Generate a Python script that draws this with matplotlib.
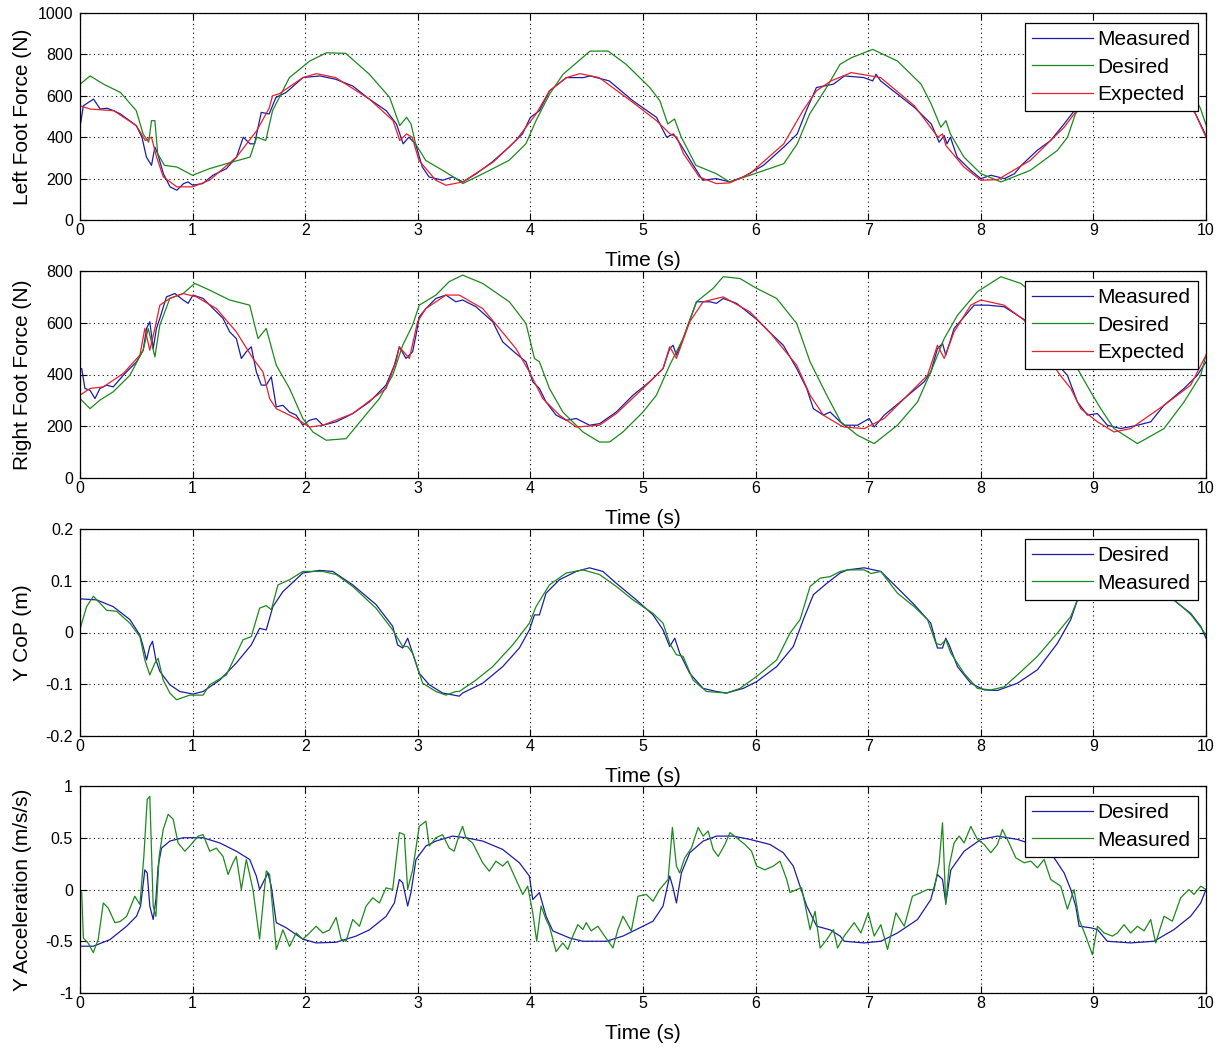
import numpy as np
import matplotlib
matplotlib.use("Agg")
import matplotlib.pyplot as plt

plt.rcParams["font.family"] = ["Liberation Sans", "DejaVu Sans"]

# ---------------------------------------------------------------- data
# Each series is a list of (time [s], value) samples.

# Left foot force (N)
lf_measured = [
    (0, 448), (0.03, 552), (0.12, 584), (0.18, 536), (0.24, 540), (0.30, 528), (0.36, 512),
    (0.50, 456), (0.55, 400), (0.59, 304), (0.635, 264), (0.665, 352), (0.69, 320), (0.74, 224),
    (0.80, 160), (0.86, 144), (0.92, 176), (0.96, 184), (1.0, 168), (1.09, 176), (1.18, 216),
    (1.30, 248), (1.39, 304), (1.45, 400), (1.51, 368), (1.55, 368), (1.61, 520), (1.68, 512),
    (1.74, 592), (1.83, 616), (1.98, 688), (2.13, 696), (2.27, 680), (2.42, 648), (2.57, 584),
    (2.72, 528), (2.81, 464), (2.87, 368), (2.92, 400), (2.98, 368), (3.04, 256), (3.10, 208),
    (3.22, 192), (3.31, 208), (3.40, 184), (3.52, 224), (3.66, 280), (3.81, 352), (3.93, 416),
    (4.0, 496), (4.08, 528), (4.17, 624), (4.32, 688), (4.47, 688), (4.53, 696), (4.70, 672),
    (4.91, 576), (5.12, 496), (5.21, 400), (5.27, 416), (5.33, 368), (5.42, 288), (5.53, 192),
    (5.65, 200), (5.77, 184), (5.89, 208), (6.07, 264), (6.25, 352), (6.37, 416), (6.45, 528),
    (6.54, 640), (6.69, 656), (6.79, 696), (6.96, 688), (7.04, 672), (7.07, 704), (7.11, 672),
    (7.26, 608), (7.41, 544), (7.56, 464), (7.63, 376), (7.675, 408), (7.70, 368), (7.73, 400),
    (7.79, 304), (7.91, 240), (8.0, 200), (8.09, 216), (8.21, 200), (8.30, 224), (8.36, 264),
    (8.50, 336), (8.62, 384), (8.74, 464), (8.83, 528), (9.0, 610), (9.2, 680), (9.4, 700),
    (9.6, 660), (9.8, 570), (9.9, 520), (10.0, 408),
]
lf_desired = [
    (0, 656), (0.09, 696), (0.21, 656), (0.36, 616), (0.50, 528), (0.56, 416), (0.61, 376),
    (0.635, 480), (0.665, 480), (0.69, 320), (0.75, 264), (0.86, 256), (1.0, 216), (1.15, 248),
    (1.30, 272), (1.51, 304), (1.57, 400), (1.65, 384), (1.71, 528), (1.86, 688), (2.04, 768),
    (2.19, 808), (2.36, 805), (2.57, 704), (2.75, 592), (2.84, 456), (2.90, 496), (2.94, 464),
    (2.98, 368), (3.07, 288), (3.22, 240), (3.34, 200), (3.40, 176), (3.58, 224), (3.81, 288),
    (3.96, 368), (4.05, 480), (4.17, 608), (4.29, 704), (4.53, 816), (4.69, 816), (4.85, 752),
    (5.06, 640), (5.15, 576), (5.22, 464), (5.28, 488), (5.34, 400), (5.47, 264), (5.65, 224),
    (5.77, 184), (5.95, 216), (6.25, 272), (6.37, 368), (6.48, 512), (6.63, 640), (6.75, 752),
    (6.85, 784), (7.04, 824), (7.26, 768), (7.47, 656), (7.56, 560), (7.645, 448), (7.69, 480),
    (7.73, 416), (7.85, 304), (8.0, 224), (8.18, 184), (8.44, 240), (8.68, 336), (8.77, 400),
    (8.84, 512), (9.0, 640), (9.2, 760), (9.45, 815), (9.7, 760), (9.85, 640), (9.95, 540),
    (10.0, 460),
]
lf_expected = [
    (0, 552), (0.09, 536), (0.30, 528), (0.50, 456), (0.58, 384), (0.635, 400), (0.68, 304),
    (0.74, 208), (0.86, 160), (1.0, 160), (1.15, 192), (1.39, 304), (1.57, 432), (1.68, 540),
    (1.71, 600), (1.77, 610), (1.98, 688), (2.10, 707), (2.27, 688), (2.57, 584), (2.78, 480),
    (2.84, 384), (2.90, 416), (2.95, 400), (3.01, 288), (3.16, 192), (3.25, 168), (3.40, 184),
    (3.67, 280), (3.87, 384), (4.05, 512), (4.17, 624), (4.32, 688), (4.44, 707), (4.61, 688),
    (4.91, 568), (5.12, 480), (5.24, 416), (5.30, 400), (5.36, 320), (5.50, 208), (5.65, 176),
    (5.77, 179), (5.95, 224), (6.25, 368), (6.42, 528), (6.54, 624), (6.67, 672), (6.85, 712),
    (7.11, 688), (7.41, 552), (7.62, 400), (7.66, 416), (7.69, 360), (7.85, 256), (8.0, 192),
    (8.15, 195), (8.44, 288), (8.74, 448), (8.84, 520), (9.0, 610), (9.2, 680), (9.4, 705),
    (9.6, 670), (9.8, 580), (9.9, 520), (10.0, 400),
]

# Right foot force (N)
rf_measured = [
    (0, 420), (0.015, 423), (0.044, 346), (0.089, 339), (0.133, 307), (0.177, 346), (0.236, 359),
    (0.295, 352), (0.384, 397), (0.502, 449), (0.561, 494), (0.591, 578), (0.62, 604), (0.65, 500),
    (0.679, 578), (0.709, 617), (0.768, 700), (0.842, 713), (0.916, 688), (0.96, 675), (1.004, 707),
    (1.093, 694), (1.182, 655), (1.27, 617), (1.329, 565), (1.388, 539), (1.433, 462), (1.477, 488),
    (1.521, 507), (1.566, 410), (1.61, 359), (1.654, 359), (1.699, 391), (1.743, 275), (1.802, 281),
    (1.861, 255), (1.92, 243), (1.979, 204), (2.038, 223), (2.097, 230), (2.157, 204), (2.275, 217),
    (2.422, 249), (2.57, 294), (2.718, 359), (2.792, 436), (2.836, 507), (2.895, 462), (2.954, 488),
    (2.984, 552), (3.013, 623), (3.072, 655), (3.161, 694), (3.25, 707), (3.338, 681), (3.398, 688),
    (3.516, 662), (3.665, 604), (3.754, 526), (3.872, 481), (3.961, 449), (4.021, 372), (4.08, 346),
    (4.139, 294), (4.228, 243), (4.318, 223), (4.407, 230), (4.466, 217), (4.525, 204), (4.614, 210),
    (4.763, 255), (4.911, 320), (5.059, 372), (5.178, 423), (5.237, 500), (5.267, 513), (5.297, 475),
    (5.356, 539), (5.475, 681), (5.593, 681), (5.653, 675), (5.712, 694), (5.831, 675), (6.009, 613),
    (6.128, 562), (6.246, 513), (6.365, 423), (6.454, 346), (6.513, 268), (6.602, 243), (6.662, 255),
    (6.751, 217), (6.787, 204), (6.905, 204), (7.009, 230), (7.053, 197), (7.142, 243), (7.32, 307),
    (7.497, 372), (7.556, 410), (7.615, 500), (7.66, 520), (7.689, 475), (7.763, 578), (7.852, 623),
    (7.941, 668), (8.059, 668), (8.207, 662), (8.325, 629), (8.414, 604), (8.55, 520), (8.7, 430),
    (8.769, 397), (8.858, 294), (8.947, 243), (9.036, 249), (9.124, 204), (9.243, 191), (9.391, 204),
    (9.509, 217), (9.627, 281), (9.805, 346), (9.923, 397), (10.0, 449),
]
rf_desired = [
    (0, 307), (0.089, 268), (0.177, 301), (0.295, 333), (0.443, 397), (0.561, 494), (0.606, 578),
    (0.665, 468), (0.709, 591), (0.798, 694), (0.916, 713), (1.019, 752), (1.152, 726), (1.329, 688),
    (1.507, 668), (1.581, 539), (1.654, 578), (1.743, 436), (1.861, 346), (1.979, 230), (2.068, 178),
    (2.186, 146), (2.363, 152), (2.511, 230), (2.659, 307), (2.777, 397), (2.866, 513), (2.954, 591),
    (3.013, 668), (3.161, 707), (3.279, 759), (3.398, 784), (3.576, 752), (3.813, 681), (3.961, 597),
    (4.036, 462), (4.08, 449), (4.169, 346), (4.288, 255), (4.466, 178), (4.614, 139), (4.703, 139),
    (4.822, 178), (5.0, 255), (5.119, 320), (5.237, 436), (5.356, 539), (5.475, 681), (5.623, 733),
    (5.712, 778), (5.861, 771), (6.009, 733), (6.187, 694), (6.365, 597), (6.484, 449), (6.632, 320),
    (6.757, 217), (6.905, 165), (7.053, 133), (7.26, 204), (7.438, 294), (7.556, 410), (7.675, 539),
    (7.793, 629), (7.97, 720), (8.178, 778), (8.355, 752), (8.5, 700), (8.65, 600), (8.78, 480),
    (8.858, 423), (8.976, 333), (9.065, 268), (9.183, 191), (9.391, 133), (9.627, 191), (9.805, 294),
    (9.953, 397), (10.0, 475),
]
rf_expected = [
    (0, 320), (0.089, 346), (0.207, 352), (0.384, 404), (0.532, 475), (0.576, 578), (0.62, 494),
    (0.665, 578), (0.709, 668), (0.798, 694), (0.916, 713), (1.034, 700), (1.211, 655), (1.388, 565),
    (1.536, 462), (1.625, 410), (1.684, 307), (1.743, 268), (1.92, 230), (2.038, 197), (2.157, 204),
    (2.422, 249), (2.718, 346), (2.806, 449), (2.836, 507), (2.925, 462), (2.998, 604), (3.072, 655),
    (3.25, 707), (3.368, 707), (3.576, 655), (3.724, 578), (3.872, 500), (3.991, 410), (4.11, 307),
    (4.258, 243), (4.407, 197), (4.614, 204), (4.763, 249), (5.0, 346), (5.178, 423), (5.237, 507),
    (5.297, 462), (5.415, 604), (5.534, 681), (5.712, 700), (5.95, 642), (6.128, 562), (6.365, 436),
    (6.484, 320), (6.602, 243), (6.751, 204), (6.787, 197), (6.964, 191), (7.142, 230), (7.32, 307),
    (7.527, 397), (7.615, 513), (7.675, 462), (7.763, 565), (7.911, 668), (8.0, 688), (8.207, 668),
    (8.385, 610), (8.55, 500), (8.7, 400), (8.799, 346), (8.888, 268), (9.036, 217), (9.183, 178),
    (9.331, 191), (9.627, 281), (9.864, 359), (10.0, 475),
]

# Lateral centre of pressure (m)
cop_desired = [
    (0, 0.065), (0.148, 0.063), (0.295, 0.05), (0.443, 0.025), (0.532, -0.005), (0.561, -0.027),
    (0.591, -0.053), (0.62, -0.027), (0.644, -0.017), (0.674, -0.053), (0.709, -0.075),
    (0.798, -0.101), (0.886, -0.114), (1.004, -0.119), (1.093, -0.114), (1.241, -0.092),
    (1.388, -0.059), (1.521, -0.024), (1.595, 0.008), (1.654, 0.005), (1.713, 0.05), (1.802, 0.079),
    (1.979, 0.115), (2.127, 0.12), (2.245, 0.118), (2.422, 0.092), (2.629, 0.054), (2.777, 0.012),
    (2.821, -0.024), (2.866, -0.03), (2.91, -0.011), (2.954, -0.04), (3.013, -0.079), (3.102, -0.101),
    (3.22, -0.117), (3.368, -0.123), (3.398, -0.117), (3.576, -0.098), (3.754, -0.066),
    (3.902, -0.03), (3.991, 0.005), (4.036, 0.034), (4.08, 0.034), (4.139, 0.076), (4.258, 0.102),
    (4.407, 0.118), (4.525, 0.125), (4.644, 0.118), (4.763, 0.095), (4.941, 0.063), (5.089, 0.034),
    (5.178, 0.005), (5.237, -0.027), (5.282, -0.011), (5.326, -0.04), (5.415, -0.079),
    (5.534, -0.108), (5.653, -0.114), (5.742, -0.117), (5.89, -0.108), (6.009, -0.095),
    (6.187, -0.066), (6.335, -0.027), (6.424, 0.025), (6.513, 0.073), (6.632, 0.095), (6.751, 0.115),
    (6.817, 0.121), (6.964, 0.125), (7.112, 0.118), (7.26, 0.086), (7.408, 0.054), (7.556, 0.018),
    (7.615, -0.03), (7.66, -0.03), (7.689, -0.011), (7.719, -0.024), (7.793, -0.066),
    (7.911, -0.098), (8.03, -0.111), (8.148, -0.112), (8.325, -0.098), (8.503, -0.072),
    (8.68, -0.021), (8.799, 0.025), (8.858, 0.063), (9.0, 0.095), (9.15, 0.115), (9.3, 0.12),
    (9.45, 0.11), (9.6, 0.085), (9.746, 0.057), (9.864, 0.037), (9.953, 0.012), (10.0, -0.011),
]
cop_measured = [
    (0, 0.005), (0.015, 0.018), (0.059, 0.05), (0.118, 0.07), (0.177, 0.057), (0.236, 0.043),
    (0.325, 0.041), (0.443, 0.018), (0.532, -0.008), (0.576, -0.053), (0.62, -0.082),
    (0.665, -0.059), (0.694, -0.05), (0.739, -0.092), (0.798, -0.117), (0.857, -0.13),
    (0.975, -0.121), (1.093, -0.121), (1.152, -0.101), (1.3, -0.082), (1.448, -0.014),
    (1.521, -0.008), (1.595, 0.047), (1.654, 0.052), (1.699, 0.044), (1.758, 0.092), (1.861, 0.102),
    (1.979, 0.118), (2.157, 0.118), (2.275, 0.112), (2.422, 0.089), (2.629, 0.047), (2.777, 0.005),
    (2.866, -0.027), (2.91, -0.027), (2.954, -0.04), (2.984, -0.059), (3.043, -0.098),
    (3.161, -0.114), (3.25, -0.121), (3.338, -0.114), (3.368, -0.114), (3.516, -0.092),
    (3.665, -0.066), (3.843, -0.024), (3.991, 0.018), (4.05, 0.05), (4.169, 0.092), (4.318, 0.115),
    (4.466, 0.121), (4.614, 0.112), (4.763, 0.089), (4.911, 0.063), (5.089, 0.037), (5.178, 0.018),
    (5.237, -0.021), (5.297, -0.043), (5.356, -0.046), (5.445, -0.092), (5.564, -0.114),
    (5.742, -0.117), (5.861, -0.108), (6.009, -0.085), (6.187, -0.053), (6.306, -0.001),
    (6.395, 0.025), (6.484, 0.089), (6.573, 0.105), (6.662, 0.108), (6.751, 0.118), (6.817, 0.121),
    (6.964, 0.121), (7.024, 0.114), (7.112, 0.118), (7.26, 0.076), (7.408, 0.05), (7.527, 0.025),
    (7.601, -0.021), (7.645, -0.024), (7.689, -0.014), (7.734, -0.04), (7.852, -0.079),
    (7.97, -0.108), (8.089, -0.111), (8.207, -0.105), (8.325, -0.082), (8.503, -0.046),
    (8.68, -0.001), (8.799, 0.031), (8.858, 0.063), (9.0, 0.105), (9.15, 0.12), (9.3, 0.12),
    (9.45, 0.105), (9.6, 0.08), (9.75, 0.057), (9.864, 0.035), (9.953, 0.01), (10.0, -0.005),
]

# Lateral acceleration (m/s/s)
acc_desired = [
    (0, -0.548), (0.118, -0.548), (0.266, -0.484), (0.414, -0.355), (0.502, -0.258), (0.538, -0.16),
    (0.576, 0.19), (0.597, 0.16), (0.62, -0.16), (0.65, -0.29), (0.674, -0.097), (0.694, 0.226),
    (0.724, 0.4), (0.798, 0.468), (0.916, 0.5), (1.093, 0.5), (1.241, 0.45), (1.388, 0.37),
    (1.507, 0.29), (1.566, 0.13), (1.595, 0.0), (1.625, 0.065), (1.669, 0.16), (1.699, 0.03),
    (1.743, -0.32), (1.832, -0.37), (1.979, -0.48), (2.097, -0.516), (2.275, -0.51), (2.452, -0.45),
    (2.57, -0.39), (2.718, -0.26), (2.792, -0.13), (2.836, 0.097), (2.866, 0.065), (2.91, -0.16),
    (2.939, -0.03), (2.984, 0.29), (3.072, 0.42), (3.161, 0.468), (3.309, 0.516), (3.427, 0.5),
    (3.576, 0.468), (3.754, 0.387), (3.902, 0.258), (3.991, 0.13), (4.021, -0.097), (4.08, -0.03),
    (4.139, -0.258), (4.199, -0.4), (4.347, -0.468), (4.466, -0.5), (4.674, -0.5), (4.822, -0.45),
    (5.0, -0.355), (5.089, -0.306), (5.178, -0.16), (5.237, 0.13), (5.267, 0.016), (5.297, -0.13),
    (5.341, 0.16), (5.415, 0.355), (5.534, 0.468), (5.653, 0.516), (5.801, 0.516), (5.95, 0.484),
    (6.128, 0.435), (6.246, 0.355), (6.335, 0.226), (6.395, 0.03), (6.454, -0.16), (6.543, -0.355),
    (6.662, -0.39), (6.751, -0.45), (6.787, -0.5), (6.964, -0.516), (7.112, -0.5), (7.26, -0.42),
    (7.438, -0.29), (7.556, -0.097), (7.615, 0.145), (7.66, 0.097), (7.689, -0.13), (7.734, 0.19),
    (7.852, 0.37), (8.0, 0.484), (8.148, 0.516), (8.325, 0.484), (8.503, 0.42), (8.651, 0.306),
    (8.74, 0.16), (8.799, 0.0), (8.843, -0.16), (8.873, -0.355), (8.976, -0.37), (9.036, -0.387),
    (9.124, -0.5), (9.331, -0.516), (9.538, -0.5), (9.716, -0.387), (9.864, -0.258), (9.953, -0.13),
    (10.0, 0.0),
]
acc_measured = [
    (0, 0.0), (0.015, -0.03), (0.03, -0.47), (0.074, -0.52), (0.118, -0.61), (0.162, -0.48),
    (0.207, -0.13), (0.251, -0.18), (0.31, -0.32), (0.355, -0.31), (0.414, -0.26), (0.487, -0.065),
    (0.532, -0.145), (0.567, 0.32), (0.597, 0.87), (0.62, 0.9), (0.65, -0.16), (0.674, -0.26),
    (0.703, 0.32), (0.739, 0.58), (0.783, 0.726), (0.827, 0.68), (0.871, 0.45), (0.931, 0.37),
    (0.975, 0.42), (1.049, 0.516), (1.093, 0.53), (1.152, 0.37), (1.211, 0.4), (1.27, 0.32),
    (1.315, 0.145), (1.359, 0.26), (1.388, 0.32), (1.433, 0.0), (1.477, 0.29), (1.536, 0.0),
    (1.595, -0.48), (1.654, 0.18), (1.684, 0.145), (1.743, -0.58), (1.802, -0.39), (1.861, -0.55),
    (1.92, -0.42), (1.979, -0.48), (2.038, -0.42), (2.097, -0.355), (2.157, -0.42), (2.216, -0.39),
    (2.275, -0.27), (2.319, -0.48), (2.363, -0.5), (2.422, -0.29), (2.482, -0.355), (2.541, -0.16),
    (2.6, -0.08), (2.659, -0.13), (2.718, 0.016), (2.777, 0.0), (2.836, 0.55), (2.88, 0.53),
    (2.91, 0.0), (2.954, 0.19), (3.013, 0.61), (3.072, 0.66), (3.102, 0.42), (3.161, 0.5),
    (3.22, 0.53), (3.279, 0.4), (3.323, 0.37), (3.368, 0.53), (3.398, 0.61), (3.427, 0.5),
    (3.487, 0.45), (3.576, 0.258), (3.635, 0.177), (3.694, 0.274), (3.754, 0.226), (3.798, 0.274),
    (3.858, 0.13), (3.932, -0.048), (3.976, 0.032), (4.021, -0.226), (4.056, -0.5), (4.095, -0.16),
    (4.139, -0.29), (4.169, -0.355), (4.228, -0.6), (4.288, -0.516), (4.332, -0.58), (4.377, -0.45),
    (4.421, -0.34), (4.466, -0.387), (4.496, -0.32), (4.54, -0.4), (4.599, -0.355), (4.659, -0.45),
    (4.733, -0.565), (4.777, -0.387), (4.822, -0.258), (4.896, -0.4), (4.955, -0.065),
    (5.03, -0.048), (5.089, -0.113), (5.148, 0.0), (5.223, 0.097), (5.261, 0.6), (5.297, 0.226),
    (5.326, 0.16), (5.371, 0.306), (5.43, 0.4), (5.49, 0.6), (5.534, 0.516), (5.579, 0.565),
    (5.623, 0.387), (5.668, 0.32), (5.727, 0.435), (5.772, 0.55), (5.831, 0.5), (5.905, 0.435),
    (5.964, 0.37), (6.009, 0.226), (6.083, 0.19), (6.157, 0.226), (6.217, 0.274), (6.276, 0.097),
    (6.306, -0.03), (6.365, 0.0), (6.409, 0.016), (6.484, -0.387), (6.528, -0.21), (6.573, -0.565),
    (6.632, -0.484), (6.691, -0.387), (6.728, -0.565), (6.787, -0.45), (6.876, -0.32),
    (6.935, -0.42), (7.0, -0.226), (7.053, -0.45), (7.112, -0.34), (7.172, -0.58), (7.246, -0.226),
    (7.32, -0.355), (7.393, -0.065), (7.467, -0.03), (7.527, 0.0), (7.586, 0.0), (7.63, 0.258),
    (7.66, 0.645), (7.689, -0.145), (7.719, 0.226), (7.763, 0.45), (7.808, 0.516), (7.852, 0.45),
    (7.911, 0.61), (7.97, 0.484), (8.03, 0.435), (8.089, 0.355), (8.148, 0.435), (8.192, 0.58),
    (8.251, 0.45), (8.311, 0.306), (8.385, 0.258), (8.444, 0.274), (8.503, 0.21), (8.562, 0.29),
    (8.621, 0.097), (8.71, 0.032), (8.769, -0.19), (8.828, 0.0), (8.873, -0.29), (8.932, -0.45),
    (8.991, -0.63), (9.036, -0.355), (9.095, -0.42), (9.169, -0.45), (9.213, -0.42), (9.272, -0.34),
    (9.331, -0.42), (9.391, -0.355), (9.45, -0.4), (9.509, -0.29), (9.553, -0.516), (9.627, -0.258),
    (9.701, -0.306), (9.775, -0.08), (9.849, 0.0), (9.893, -0.048), (9.953, 0.032), (10.0, 0.0),
]

x_ticks = [0, 1, 2, 3, 4, 5, 6, 7, 8, 9, 10]
force_left_ticks = [0, 200, 400, 600, 800, 1000]
force_right_ticks = [0, 200, 400, 600, 800]
cop_ticks = [-0.2, -0.1, 0, 0.1, 0.2]
acc_ticks = [-1, -0.5, 0, 0.5, 1]
cop_tick_labels = ["-0.2", "-0.1", "0", "0.1", "0.2"]
acc_tick_labels = ["-1", "-0.5", "0", "0.5", "1"]

# ---------------------------------------------------------------- style
BLUE = "#1c1caa"
GREEN = "#1b8a1b"
RED = "#e8202a"
LW = 0.9

W, H = 1225, 1047
fig = plt.figure(figsize=(W / 100, H / 100), dpi=100)

ax_left = 80 / W
ax_width = 1126 / W
ax_height = 207 / H
bottoms_px = [220, 478, 736, 993]
axes = [fig.add_axes([ax_left, 1 - b / H, ax_width, ax_height]) for b in bottoms_px]


def series(ax, data, color, label):
    arr = np.asarray(data, dtype=float)
    ax.plot(arr[:, 0], arr[:, 1], color=color, lw=LW, label=label)


def style(ax, ylim, yticks, ylabel, yticklabels=None):
    ax.set_xlim(0, 10)
    ax.set_ylim(*ylim)
    ax.set_xticks(x_ticks)
    ax.set_yticks(yticks)
    if yticklabels is not None:
        ax.set_yticklabels(yticklabels)
    ax.grid(True, color="black", linestyle=(0, (1, 3)), linewidth=0.8)
    ax.tick_params(direction="in", top=True, right=True, length=5, width=0.8,
                   labelsize=11.5)
    ax.tick_params(axis="x", pad=2)
    ax.tick_params(axis="y", pad=5)
    for sp in ax.spines.values():
        sp.set_linewidth(0.9)
    ax.set_xlabel("Time (s)", fontsize=15)
    ax.xaxis.set_label_coords(0.5, -0.148)
    ax.set_ylabel(ylabel, fontsize=15)
    ax.yaxis.set_label_coords(-0.043, 0.5)
    leg = ax.legend(loc="upper right", bbox_to_anchor=(1 - 8 / 1126, 1 - 10 / 207),
                    borderaxespad=0, fontsize=15, handlelength=2.9, handletextpad=0.25,
                    borderpad=0.35, labelspacing=0.4, fancybox=False, framealpha=1)
    leg.get_frame().set_edgecolor("black")
    leg.get_frame().set_linewidth(0.9)


ax = axes[0]
series(ax, lf_measured, BLUE, "Measured")
series(ax, lf_desired, GREEN, "Desired")
series(ax, lf_expected, RED, "Expected")
style(ax, (0, 1000), force_left_ticks, "Left Foot Force (N)")

ax = axes[1]
series(ax, rf_measured, BLUE, "Measured")
series(ax, rf_desired, GREEN, "Desired")
series(ax, rf_expected, RED, "Expected")
style(ax, (0, 800), force_right_ticks, "Right Foot Force (N)")

ax = axes[2]
series(ax, cop_desired, BLUE, "Desired")
series(ax, cop_measured, GREEN, "Measured")
style(ax, (-0.2, 0.2), cop_ticks, "Y CoP (m)", cop_tick_labels)

ax = axes[3]
series(ax, acc_desired, BLUE, "Desired")
series(ax, acc_measured, GREEN, "Measured")
style(ax, (-1, 1), acc_ticks, "Y Acceleration (m/s/s)", acc_tick_labels)

fig.savefig("out.png", dpi=100, facecolor="white")
